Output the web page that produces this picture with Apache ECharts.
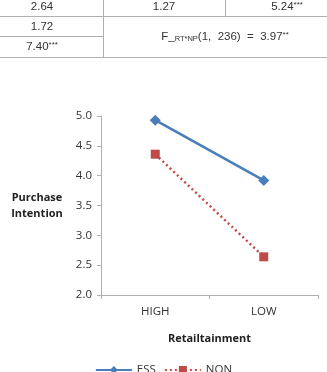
<!DOCTYPE html>
<html>
<head>
<meta charset="utf-8">
<script src="https://cdn.jsdelivr.net/npm/echarts@6/dist/echarts.min.js"></script>
<style>
  html, body { margin: 0; padding: 0; background: #fff; }
  #main { width: 327px; height: 372px; }
</style>
</head>
<body>
<div id="main"></div>
<script>
const categories = ['HIGH', 'LOW']
const essValues = [4.93, 3.92]
const nonValues = [4.36, 2.64]
const yTicks = {min: 2.0, max: 5.0, interval: 0.5}

// table fragment above the chart
const tableRow1 = ['2.64', '1.27', '5.24']
const tableLeft = ['1.72', '7.40']
const fStat = {df1: 1, df2: 236, value: '3.97'}

const blue = '#4a7ebb'
const red = '#be4b48'
const lineGray = '#b0b0b0'

const myChart = echarts.init(document.getElementById('main'), null, {renderer: 'canvas'})

const tableFont = 'Liberation Sans, Arial, sans-serif'
const hline = (y, x1, x2) => ({type: 'line', shape: {x1: x1, y1: y, x2: x2, y2: y}, style: {stroke: lineGray, lineWidth: 1}})
const vline = (x, y1, y2) => ({type: 'line', shape: {x1: x, y1: y1, x2: x, y2: y2}, style: {stroke: lineGray, lineWidth: 1}})
const cell = (x, y, text) => ({
  type: 'text', x: x, y: y,
  style: {
    text: text, align: 'center', verticalAlign: 'middle',
    font: '11.5px ' + tableFont, fill: '#333',
    rich: {sup: {fontSize: 8, fill: '#333', padding: [0, 0, 5, 0]}}
  }
})

const option = {
  animation: false,
  textStyle: {fontFamily: 'Open Sans, Lato, sans-serif'},
  grid: {left: 101, right: 9, top: 116, bottom: 77, containLabel: false},
  graphic: [
    hline(16.5, 0, 327),
    hline(36.5, 0, 103),
    hline(57.5, 0, 327),
    vline(103.5, 0, 57),
    vline(225.5, 0, 16),
    cell(42, 7, tableRow1[0]),
    cell(164, 7, tableRow1[1]),
    cell(287, 7, tableRow1[2] + '{sup|***}'),
    cell(42, 27, tableLeft[0]),
    cell(42, 47, tableLeft[1] + '{sup|***}'),
    {
      type: 'text', x: 225, y: 37,
      style: {
        text: 'F_{sub|RT*NP}(' + fStat.df1 + ',  ' + fStat.df2 + ')  =  ' + fStat.value + '{sup|**}',
        align: 'center', verticalAlign: 'middle',
        font: '11.5px ' + tableFont, fill: '#333',
        rich: {
          sub: {fontSize: 7.5, fill: '#333', padding: [4, 0, 0, 0]},
          sup: {fontSize: 8, fill: '#333', padding: [0, 0, 5, 0]}
        }
      }
    }
  ],
  legend: {
    bottom: -9,
    left: 'center',
    itemWidth: 36,
    itemHeight: 10,
    itemGap: 8,
    textStyle: {fontSize: 11.5, color: '#333', fontFamily: 'Open Sans, sans-serif'},
    data: ['ESS', 'NON']
  },
  xAxis: {
    type: 'category',
    data: categories,
    boundaryGap: true,
    name: 'Retailtainment',
    nameLocation: 'middle',
    nameGap: 38,
    nameTextStyle: {fontWeight: 'bold', fontSize: 11, color: '#222'},
    axisLine: {lineStyle: {color: lineGray}},
    axisTick: {show: true, alignWithLabel: false, length: 4, lineStyle: {color: lineGray}},
    axisLabel: {fontSize: 11.5, color: '#333', margin: 11}
  },
  yAxis: {
    type: 'value',
    min: yTicks.min,
    max: yTicks.max,
    interval: yTicks.interval,
    name: 'Purchase\nIntention',
    nameLocation: 'middle',
    nameRotate: 0,
    nameGap: 64,
    nameTextStyle: {fontWeight: 'bold', fontSize: 11, color: '#222', lineHeight: 16, align: 'center'},
    axisLine: {show: true, lineStyle: {color: lineGray}},
    axisTick: {show: true, length: 4, lineStyle: {color: lineGray}},
    splitLine: {show: false},
    axisLabel: {fontSize: 11.5, color: '#333', margin: 9, formatter: v => v.toFixed(1)}
  },
  series: [
    {
      name: 'ESS',
      type: 'line',
      data: essValues,
      symbol: 'diamond',
      symbolSize: 11,
      itemStyle: {color: blue},
      lineStyle: {color: blue, width: 2.5}
    },
    {
      name: 'NON',
      type: 'line',
      data: nonValues,
      symbol: 'rect',
      symbolSize: 9,
      itemStyle: {color: red},
      lineStyle: {color: red, width: 2.5, type: [2, 3]}
    }
  ]
}

myChart.setOption(option)
</script>
</body>
</html>
